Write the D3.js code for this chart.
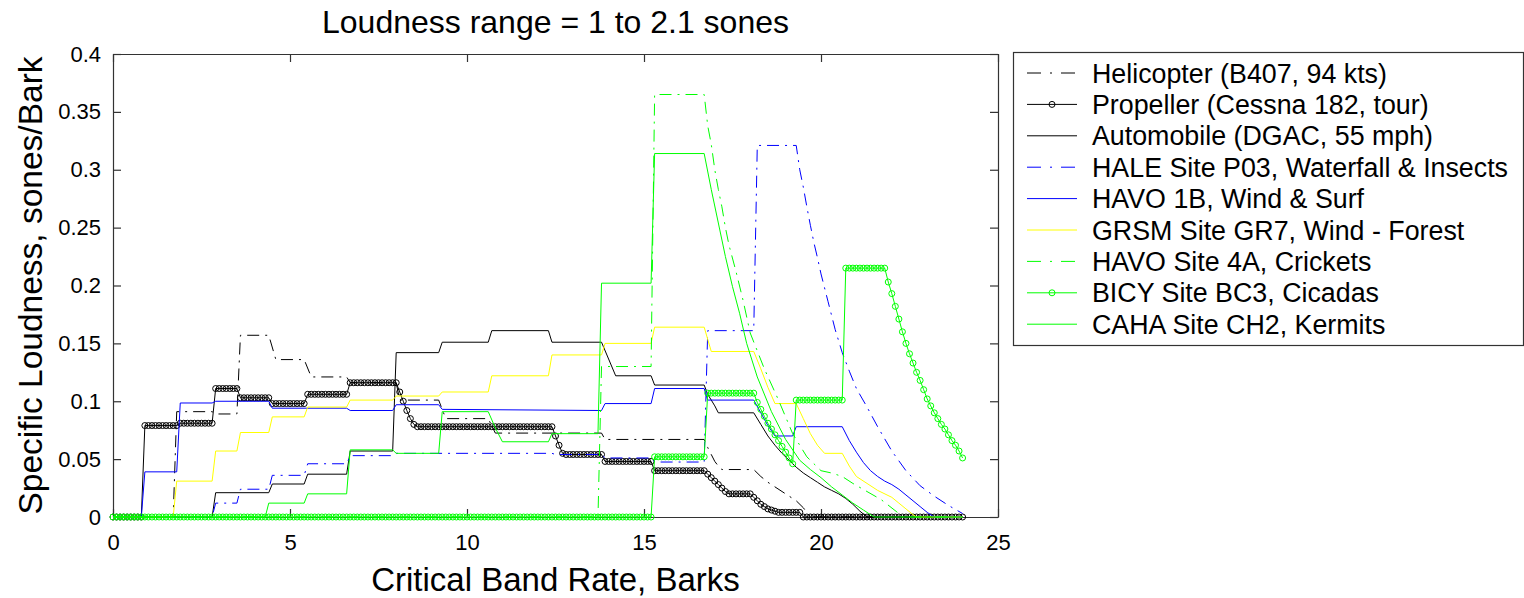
<!DOCTYPE html>
<html>
<head>
<meta charset="utf-8">
<script src="https://cdn.jsdelivr.net/npm/d3@7"></script>
<style>
body { margin: 0; background: #fff; }
text { font-family: "Liberation Sans", Arial, sans-serif; fill: #000; }
</style>
</head>
<body>
<div id="chart"></div>
<script>
// ---- data (bark, sones/bark) ----
var xTicks = [0, 5, 10, 15, 20, 25];
var yTicks = [0, 0.05, 0.1, 0.15, 0.2, 0.25, 0.3, 0.35, 0.4];

var names = [
	"Helicopter (B407, 94 kts)",
	"Propeller (Cessna 182, tour)",
	"Automobile (DGAC, 55 mph)",
	"HALE Site P03, Waterfall & Insects",
	"HAVO 1B, Wind & Surf",
	"GRSM Site GR7, Wind - Forest",
	"HAVO Site 4A, Crickets",
	"BICY Site BC3, Cicadas",
	"CAHA Site CH2, Kermits"
];

var helicopter = [[0,0],[1.7,0],[1.8,0.091],[2.8,0.091],[2.9,0.089],[3.5,0.089],[3.6,0.157],[4.4,0.157],[4.6,0.136],[5.4,0.136],[5.6,0.121],[6.6,0.121],[6.7,0.116],[8.0,0.116],[8.1,0.101],[9.2,0.101],[9.4,0.085],[10.6,0.085],[10.8,0.0725],[13.8,0.0725],[13.9,0.067],[16.7,0.067],[16.8,0.060],[16.9,0.054],[17.0,0.048],[17.1,0.044],[17.2,0.041],[18.1,0.041],[18.3,0.035],[18.5,0.030],[18.7,0.026],[18.9,0.022],[19.1,0.018],[19.3,0.014],[19.5,0.008],[19.7,0],[24,0]];

// propeller: one value every 0.1 bark, 0.0 .. 24.0
var propeller = [
	0,0,0,0,0,0,0,0,0,0.079,
	0.079,0.079,0.079,0.079,0.079,0.079,0.079,0.079,0.079,0.081,
	0.081,0.081,0.081,0.081,0.081,0.081,0.081,0.081,0.081,0.111,
	0.111,0.111,0.111,0.111,0.111,0.111,0.103,0.103,0.103,0.103,
	0.103,0.103,0.103,0.103,0.103,0.098,0.098,0.098,0.098,0.098,
	0.098,0.098,0.098,0.098,0.098,0.106,0.106,0.106,0.106,0.106,
	0.106,0.106,0.106,0.106,0.106,0.106,0.106,0.116,0.116,0.116,
	0.116,0.116,0.116,0.116,0.116,0.116,0.116,0.116,0.116,0.116,
	0.116,0.108,0.100,0.092,0.085,0.080,0.078,0.078,0.078,0.078,
	0.078,0.078,0.078,0.078,0.078,0.078,0.078,0.078,0.078,0.078,
	0.078,0.078,0.078,0.078,0.078,0.078,0.078,0.078,0.078,0.078,
	0.078,0.078,0.078,0.078,0.078,0.078,0.078,0.078,0.078,0.078,
	0.078,0.078,0.078,0.078,0.078,0.070,0.062,0.055,0.054,0.054,
	0.054,0.054,0.054,0.054,0.054,0.054,0.054,0.054,0.054,0.048,
	0.048,0.048,0.048,0.048,0.048,0.048,0.048,0.048,0.048,0.048,
	0.048,0.048,0.048,0.040,0.040,0.040,0.040,0.040,0.040,0.040,
	0.040,0.040,0.040,0.040,0.040,0.040,0.040,0.040,0.037,0.034,
	0.031,0.028,0.025,0.022,0.020,0.020,0.020,0.020,0.020,0.020,
	0.020,0.017,0.014,0.011,0.009,0.007,0.006,0.005,0.004,0.004,
	0.004,0.004,0.004,0.004,0.004,0,0,0,0,0,
	0,0,0,0,0,0,0,0,0,0,
	0,0,0,0,0,0,0,0,0,0,
	0,0,0,0,0,0,0,0,0,0,
	0,0,0,0,0,0,0,0,0,0,
	0
];

var automobile = [[0,0],[2.8,0],[2.9,0.021],[4.4,0.021],[4.5,0.0285],[5.4,0.0285],[5.5,0.037],[6.6,0.037],[6.7,0.057],[7.9,0.057],[8.0,0.142],[9.2,0.142],[9.3,0.151],[10.6,0.151],[10.7,0.161],[12.3,0.161],[12.4,0.151],[13.8,0.151],[14.2,0.122],[15.2,0.122],[15.3,0.114],[16.7,0.114],[16.8,0.106],[17.0,0.096],[17.1,0.090],[18.1,0.090],[18.3,0.080],[18.5,0.070],[18.7,0.062],[18.9,0.055],[19.1,0.049],[19.3,0.043],[19.5,0.038],[19.7,0.034],[19.9,0.030],[20.1,0.026],[20.3,0.023],[20.5,0.020],[20.7,0.016],[20.9,0.011],[21.1,0.005],[21.3,0],[24,0]];

var hale = [[0,0],[2.8,0],[2.9,0.012],[3.5,0.012],[3.6,0.024],[4.4,0.024],[4.5,0.036],[5.4,0.036],[5.5,0.046],[6.6,0.046],[6.7,0.053],[7.9,0.053],[8.0,0.055],[12.4,0.055],[12.5,0.054],[13.8,0.054],[13.9,0.051],[15.2,0.051],[15.3,0.0475],[16.7,0.0475],[16.8,0.161],[18.1,0.161],[18.2,0.321],[19.3,0.321],[19.4,0.300],[19.5,0.285],[19.6,0.268],[19.7,0.252],[19.8,0.237],[19.9,0.224],[20.0,0.210],[20.2,0.186],[20.4,0.162],[20.6,0.142],[20.8,0.126],[21.0,0.111],[21.3,0.095],[21.6,0.078],[22.0,0.057],[22.4,0.040],[22.8,0.027],[23.2,0.018],[23.6,0.010],[24.0,0.003]];

var havo1b = [[0,0],[0.8,0],[0.9,0.039],[1.8,0.039],[1.9,0.0985],[2.8,0.0985],[2.9,0.100],[4.4,0.100],[4.5,0.094],[6.6,0.094],[6.7,0.092],[7.9,0.092],[8.0,0.097],[9.2,0.097],[9.3,0.093],[13.8,0.092],[13.9,0.098],[15.2,0.098],[15.3,0.111],[16.7,0.111],[16.8,0.101],[18.1,0.101],[18.3,0.090],[18.5,0.079],[18.7,0.070],[19.2,0.070],[19.3,0.078],[20.6,0.078],[20.8,0.066],[21.0,0.056],[21.2,0.047],[21.4,0.040],[21.6,0.035],[21.8,0.031],[22.0,0.028],[22.2,0.024],[22.4,0.019],[22.6,0.014],[22.8,0.009],[23.0,0.004],[23.2,0],[24,0]];

var grsm = [[0,0],[1.7,0],[1.8,0.031],[2.8,0.031],[2.9,0.057],[3.5,0.057],[3.6,0.073],[4.4,0.073],[4.5,0.0865],[5.4,0.0865],[5.5,0.095],[6.6,0.095],[6.7,0.101],[7.9,0.101],[8.0,0.1045],[9.2,0.1045],[9.3,0.108],[10.6,0.108],[10.7,0.122],[12.3,0.122],[12.4,0.140],[13.8,0.140],[13.9,0.150],[15.2,0.150],[15.3,0.164],[16.7,0.164],[16.9,0.143],[18.1,0.143],[18.3,0.128],[18.5,0.112],[18.7,0.098],[19.3,0.098],[19.5,0.085],[19.7,0.072],[19.9,0.062],[20.1,0.055],[20.6,0.055],[20.8,0.044],[21.0,0.035],[21.3,0.029],[21.6,0.023],[22.0,0.017],[22.2,0.012],[22.4,0.007],[22.6,0.002],[22.7,0],[24,0]];

var havo4a = [[0,0],[13.7,0],[13.8,0.130],[15.2,0.130],[15.3,0.365],[16.7,0.365],[16.8,0.338],[16.9,0.322],[17.0,0.300],[17.1,0.283],[17.2,0.268],[17.3,0.250],[17.4,0.235],[17.6,0.212],[17.8,0.187],[18.0,0.159],[18.4,0.128],[18.8,0.101],[19.2,0.072],[19.6,0.052],[20.0,0.040],[20.3,0.038],[20.6,0.035],[20.9,0.029],[21.3,0.022],[21.7,0.015],[22.2,0.003],[22.3,0],[24,0]];

// cicadas: one value every 0.1 bark, 0.0 .. 24.0
var bicy = [
	0,0,0,0,0,0,0,0,0,0, 0,0,0,0,0,0,0,0,0,0,
	0,0,0,0,0,0,0,0,0,0, 0,0,0,0,0,0,0,0,0,0,
	0,0,0,0,0,0,0,0,0,0, 0,0,0,0,0,0,0,0,0,0,
	0,0,0,0,0,0,0,0,0,0, 0,0,0,0,0,0,0,0,0,0,
	0,0,0,0,0,0,0,0,0,0, 0,0,0,0,0,0,0,0,0,0,
	0,0,0,0,0,0,0,0,0,0, 0,0,0,0,0,0,0,0,0,0,
	0,0,0,0,0,0,0,0,0,0, 0,0,0,0,0,0,0,0,0,0,
	0,0,0,0,0,0,0,0,0,0,
	0,0,0,0.052,0.052,0.052,0.052,0.052,0.052,0.052,
	0.052,0.052,0.052,0.052,0.052,0.052,0.052,0.052,0.107,0.107,
	0.107,0.107,0.107,0.107,0.107,0.107,0.107,0.107,0.107,0.107,
	0.107,0.107,0.099,0.093,0.087,0.081,0.076,0.071,0.066,0.061,
	0.056,0.051,0.046,0.101,0.101,0.101,0.101,0.101,0.101,0.101,
	0.101,0.101,0.101,0.101,0.101,0.101,0.101,0.215,0.215,0.215,
	0.215,0.215,0.215,0.215,0.215,0.215,0.215,0.215,0.215,0.203,
	0.193,0.182,0.171,0.160,0.150,0.141,0.133,0.125,0.118,0.110,
	0.102,0.096,0.090,0.085,0.080,0.076,0.071,0.066,0.062,0.057,
	0.051
];

var caha = [[0,0],[4.3,0],[4.4,0.012],[5.4,0.012],[5.5,0.020],[6.6,0.020],[6.7,0.058],[7.9,0.058],[8.0,0.055],[9.2,0.055],[9.3,0.091],[10.6,0.091],[10.8,0.077],[11.0,0.065],[12.3,0.065],[12.4,0.072],[13.7,0.072],[13.8,0.202],[15.2,0.202],[15.3,0.314],[16.7,0.314],[16.9,0.283],[17.1,0.254],[17.3,0.225],[17.5,0.199],[17.7,0.176],[17.9,0.150],[18.2,0.121],[18.6,0.091],[19.0,0.067],[19.4,0.049],[19.7,0.041],[20.0,0.034],[20.3,0.026],[20.6,0.019],[20.9,0.012],[21.2,0.006],[21.5,0],[24,0]];

// one bark value per sample for the 0.1-bark series
function byTenth(vals) {
	return vals.map(function (v, i) { return [i / 10, v]; });
}

var series = [
	{name: names[0], pts: helicopter, color: "#000000", dash: "12,6,2,6", mark: false},
	{name: names[1], pts: byTenth(propeller), color: "#000000", dash: null, mark: true},
	{name: names[2], pts: automobile, color: "#000000", dash: null, mark: false},
	{name: names[3], pts: hale, color: "#0000ff", dash: "12,6,2,6", mark: false},
	{name: names[4], pts: havo1b, color: "#0000ff", dash: null, mark: false},
	{name: names[5], pts: grsm, color: "#ffff00", dash: null, mark: false},
	{name: names[6], pts: havo4a, color: "#00ff00", dash: "12,6,2,6", mark: false},
	{name: names[7], pts: byTenth(bicy), color: "#00ff00", dash: null, mark: true},
	{name: names[8], pts: caha, color: "#00ff00", dash: null, mark: false}
];

var W = 1524, H = 598;
var plot = {left: 113, right: 998, top: 54, bottom: 517};

var svg = d3.select("#chart").append("svg")
	.attr("width", W)
	.attr("height", H);

var x = d3.scaleLinear().domain([0, 25]).range([plot.left, plot.right]);
var y = d3.scaleLinear().domain([0, 0.4]).range([plot.bottom, plot.top]);

// axes box with inward ticks on all sides
var axisColor = "#333";
function styleAxis(g) {
	g.selectAll("path.domain").attr("stroke", axisColor).attr("stroke-width", 1.2);
	g.selectAll(".tick line").attr("stroke", axisColor).attr("stroke-width", 1.2);
	g.selectAll(".tick text")
		.style("font-family", '"Liberation Sans", Arial, sans-serif')
		.style("font-size", "22px")
		.attr("fill", "#000");
}

svg.append("g")
	.attr("transform", "translate(0," + plot.bottom + ")")
	.call(d3.axisBottom(x).tickValues(xTicks).tickSizeInner(-8).tickSizeOuter(0).tickPadding(17))
	.call(styleAxis);
svg.append("g")
	.attr("transform", "translate(0," + plot.top + ")")
	.call(d3.axisTop(x).tickValues(xTicks).tickSizeInner(-8).tickSizeOuter(0).tickFormat(""))
	.call(styleAxis);
svg.append("g")
	.attr("transform", "translate(" + plot.left + ",0)")
	.call(d3.axisLeft(y).tickValues(yTicks).tickSizeInner(-8).tickSizeOuter(0).tickPadding(12)
		.tickFormat(function (d) { return String(d); }))
	.call(styleAxis);
svg.append("g")
	.attr("transform", "translate(" + plot.right + ",0)")
	.call(d3.axisRight(y).tickValues(yTicks).tickSizeInner(-8).tickSizeOuter(0).tickFormat(""))
	.call(styleAxis);

// the lines
var line = d3.line()
	.x(function (d) { return x(d[0]); })
	.y(function (d) { return y(d[1]); });

series.forEach(function (s) {
	var g = svg.append("g").attr("class", "series");
	g.append("path")
		.attr("d", line(s.pts))
		.attr("fill", "none")
		.attr("stroke", s.color)
		.attr("stroke-width", 1)
		.attr("stroke-dasharray", s.dash);
	if (s.mark) {
		g.selectAll("circle").data(s.pts).enter().append("circle")
			.attr("cx", function (d) { return x(d[0]); })
			.attr("cy", function (d) { return y(d[1]); })
			.attr("r", 3)
			.attr("fill", "none")
			.attr("stroke", s.color)
			.attr("stroke-width", 1);
	}
});

// titles
svg.append("text")
	.attr("x", (plot.left + plot.right) / 2)
	.attr("y", 33)
	.attr("text-anchor", "middle")
	.style("font-size", "32px")
	.text("Loudness range = 1 to 2.1 sones");

svg.append("text")
	.attr("x", (plot.left + plot.right) / 2)
	.attr("y", 591)
	.attr("text-anchor", "middle")
	.style("font-size", "33px")
	.text("Critical Band Rate, Barks");

svg.append("text")
	.attr("transform", "translate(42," + (plot.top + plot.bottom) / 2 + ") rotate(-90)")
	.attr("text-anchor", "middle")
	.style("font-size", "33.5px")
	.text("Specific Loudness, sones/Bark");

// legend
var lg = {left: 1013, top: 52, right: 1523, bottom: 345, row: 31.4, first: 73};
var legend = svg.append("g");
legend.append("rect")
	.attr("x", lg.left + 0.5).attr("y", lg.top + 0.5)
	.attr("width", lg.right - lg.left).attr("height", lg.bottom - lg.top)
	.attr("fill", "#fff").attr("stroke", axisColor).attr("stroke-width", 1.2);

var item = legend.selectAll("g.item").data(series).enter().append("g")
	.attr("class", "item")
	.attr("transform", function (d, i) { return "translate(0," + (lg.first + i * lg.row) + ")"; });

item.append("line")
	.attr("x1", 1027).attr("x2", 1077)
	.attr("y1", 0).attr("y2", 0)
	.attr("stroke", function (d) { return d.color; })
	.attr("stroke-width", 1)
	.attr("stroke-dasharray", function (d) { return d.dash ? "14,9,2,9" : null; });

item.filter(function (d) { return d.mark; }).append("circle")
	.attr("cx", 1052).attr("cy", 0).attr("r", 3)
	.attr("fill", "none")
	.attr("stroke", function (d) { return d.color; });

item.append("text")
	.attr("x", 1092)
	.attr("y", 9.5)
	.style("font-size", "26.8px")
	.text(function (d) { return d.name; });
</script>
</body>
</html>
